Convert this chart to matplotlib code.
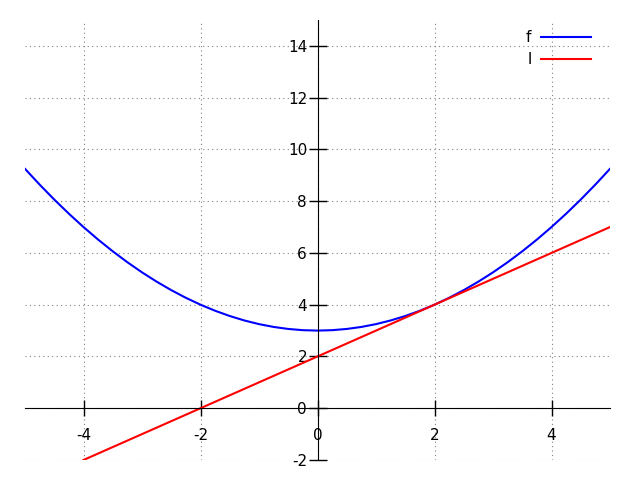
import matplotlib
matplotlib.use("Agg")
import matplotlib.pyplot as plt

plt.rcParams["axes.unicode_minus"] = False

x_f = [-5, -4.75, -4.5, -4.25, -4, -3.75, -3.5, -3.25, -3, -2.75, -2.5, -2.25, -2,
       -1.75, -1.5, -1.25, -1, -0.75, -0.5, -0.25, 0, 0.25, 0.5, 0.75, 1, 1.25, 1.5,
       1.75, 2, 2.25, 2.5, 2.75, 3, 3.25, 3.5, 3.75, 4, 4.25, 4.5, 4.75, 5]
y_f = [9.25, 8.641, 8.063, 7.516, 7.0, 6.516, 6.063, 5.641, 5.25, 4.891, 4.563, 4.266, 4.0,
       3.766, 3.563, 3.391, 3.25, 3.141, 3.063, 3.016, 3.0, 3.016, 3.063, 3.141, 3.25, 3.391, 3.563,
       3.766, 4.0, 4.266, 4.563, 4.891, 5.25, 5.641, 6.063, 6.516, 7.0, 7.516, 8.063, 8.641, 9.25]
x_l = [-4, 5]
y_l = [-2, 7]
xticks = [-4, -2, 0, 2, 4]
yticks = [-2, 0, 2, 4, 6, 8, 10, 12, 14]

fig = plt.figure(figsize=(6.4, 4.8), dpi=100)
ax = fig.add_axes([25/640, 20/480, 585/640, 440/480])
ax.plot(x_f, y_f, color="blue", lw=1.5, label="f")
ax.plot(x_l, y_l, color="red", lw=1.5, label="l")
ax.set_xlim(-5, 5)
ax.set_ylim(-2, 15)
ax.spines["left"].set_position(("data", 0))
ax.spines["bottom"].set_position(("data", 0))
ax.spines["right"].set_visible(False)
ax.spines["top"].set_visible(False)
ax.set_xticks(xticks)
ax.set_yticks(yticks)
ax.tick_params(axis="x", direction="inout", length=11, width=1, labelsize=11, pad=8.5)
ax.tick_params(axis="y", direction="inout", length=13, width=1, labelsize=11, pad=1)
ax.grid(True, color="gray", linestyle=(0, (1, 3)), linewidth=0.8)
ax.legend(loc="upper right", frameon=False, markerfirst=False, fontsize=11,
          handlelength=3.3, handletextpad=0.6, labelspacing=0.45,
          borderpad=0, borderaxespad=0,
          bbox_to_anchor=(591/640, 1 - 30/480), bbox_transform=fig.transFigure)
fig.savefig("out.png", dpi=100)
